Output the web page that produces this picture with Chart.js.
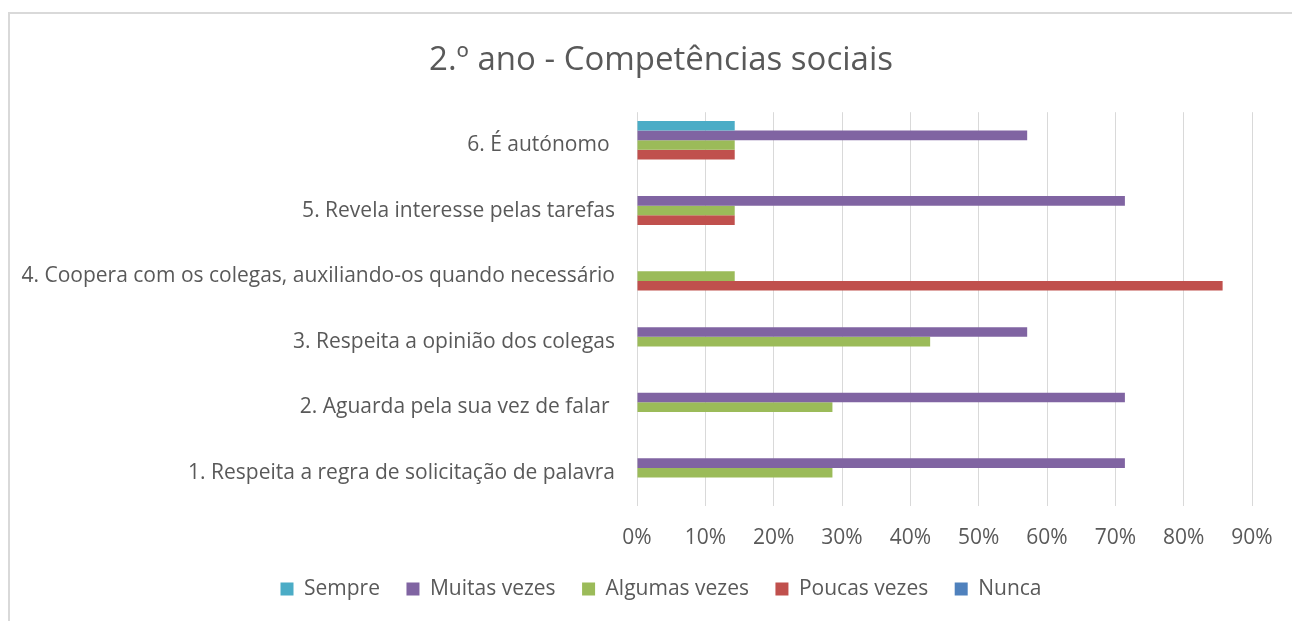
<!DOCTYPE html>
<html>
<head>
<meta charset="utf-8">
<script src="https://cdn.jsdelivr.net/npm/chart.js@4/dist/chart.umd.min.js"></script>
<style>
  html, body { margin: 0; padding: 0; background: #ffffff; overflow: hidden; }
  #wrap { position: relative; width: 1292px; height: 621px; overflow: hidden; }
  #frame { position: absolute; left: 8px; top: 12px; width: 1400px; height: 700px;
           border-left: 2px solid #d9d9d9; border-top: 2px solid #d9d9d9; }
  canvas { position: absolute; left: 0; top: 0; }
</style>
</head>
<body>
<div id="wrap">
  <div id="frame"></div>
  <canvas id="c" width="1322" height="621"></canvas>
</div>
<script>
const titleText = '2.º ano - Competências sociais';
const categories = [
  '6. É autónomo ',
  '5. Revela interesse pelas tarefas',
  '4. Coopera com os colegas, auxiliando-os quando necessário',
  '3. Respeita a opinião dos colegas',
  '2. Aguarda pela sua vez de falar ',
  '1. Respeita a regra de solicitação de palavra'
];
const seriesNames = ['Sempre', 'Muitas vezes', 'Algumas vezes', 'Poucas vezes', 'Nunca'];
const sempre       = [14.3, 0,    0,    0,    0,    0];
const muitasVezes  = [57.1, 71.4, 0,    57.1, 71.4, 71.4];
const algumasVezes = [14.3, 14.3, 14.3, 42.9, 28.6, 28.6];
const poucasVezes  = [14.3, 14.3, 85.7, 0,    0,    0];
const nunca        = [0,    0,    0,    0,    0,    0];
const xTicks = [0, 10, 20, 30, 40, 50, 60, 70, 80, 90];
const colors = ['#4bacc6', '#8064a2', '#9bbb59', '#c0504d', '#4f81bd'];

const seriesValues = [sempre, muitasVezes, algumasVezes, poucasVezes, nunca];
const FONT = '"Open Sans", "Noto Sans", sans-serif';
const TXT = '#595959';

new Chart(document.getElementById('c'), {
  type: 'bar',
  data: {
    labels: categories,
    datasets: seriesNames.map((n, i) => ({
      label: n,
      data: seriesValues[i],
      backgroundColor: colors[i],
      borderWidth: 0,
      categoryPercentage: 0.733,
      barPercentage: 1.0
    }))
  },
  options: {
    indexAxis: 'y',
    responsive: false,
    animation: false,
    devicePixelRatio: 1,
    layout: { padding: { left: 0, right: 0, top: 0, bottom: 11.5 } },
    plugins: {
      title: {
        display: true,
        text: titleText,
        color: TXT,
        font: { family: FONT, size: 33, weight: 'normal', lineHeight: 1.2 },
        padding: { top: 41.2, bottom: 31.4 }
      },
      legend: {
        position: 'bottom',
        labels: {
          color: TXT,
          font: { family: FONT, size: 21 },
          boxWidth: 13,
          boxHeight: 13,
          padding: 26.5
        }
      },
      tooltip: { enabled: false }
    },
    scales: {
      x: {
        min: 0,
        max: 90,
        afterBuildTicks: (axis) => { axis.ticks = xTicks.map(v => ({ value: v })); },
        afterFit: (axis) => { axis.height = 46.5; },
        grid: { color: '#d9d9d9', lineWidth: 1, drawTicks: false },
        border: { display: false },
        ticks: {
          color: TXT,
          font: { family: FONT, size: 21 },
          padding: 20,
          callback: (v) => v + '%'
        }
      },
      y: {
        afterFit: (axis) => { axis.width = 637; },
        grid: { display: false, drawTicks: false },
        border: { display: false },
        ticks: {
          color: TXT,
          font: { family: FONT, size: 21 },
          padding: 22
        }
      },
      rightSpace: {
        type: 'linear',
        axis: 'y',
        position: 'right',
        display: true,
        afterFit: (axis) => { axis.width = 70; },
        grid: { display: false, drawTicks: false },
        border: { display: false },
        ticks: { display: false }
      }
    }
  }
});
</script>
</body>
</html>
